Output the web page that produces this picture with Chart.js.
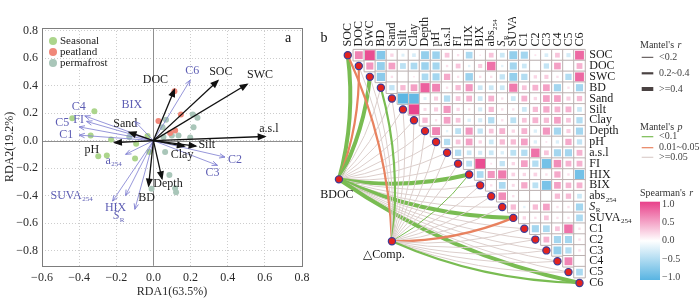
<!DOCTYPE html>
<html>
<head>
<meta charset="utf-8">
<script src="https://cdn.jsdelivr.net/npm/chart.js@4.4.0/dist/chart.umd.min.js"></script>
<style>
html, body { margin: 0; padding: 0; background: #fff; overflow: hidden; }
#wrap { position: relative; width: 700px; height: 299px; }
canvas { position: absolute; top: 0; }
#rda { left: 0; }
#mantel { left: 310px; }
</style>
</head>
<body>
<div id="wrap">
  <canvas id="rda" width="318" height="299"></canvas>
  <canvas id="mantel" width="390" height="299"></canvas>
</div>
<script>
const FONT = '"Liberation Serif", "DejaVu Serif", serif';

// ---- panel a: RDA sample scores ----
const seasonalX = [-0.318, -0.437, -0.338, -0.228, -0.297, -0.251, -0.099, -0.093, -0.032, -0.022];
const seasonalY = [0.214, 0.163, 0.038, 0.009, -0.113, -0.108, -0.130, -0.022, 0.033, -0.082];
const peatlandX = [0.113, 0.027, 0.148, 0.117, 0.090];
const peatlandY = [0.359, 0.142, 0.190, 0.074, 0.055];
const permafrostX = [0.068, 0.049, 0.212, 0.237, 0.216, 0.198, 0.135, 0.099, 0.054, 0.063, 0.086, -0.010, 0.117, 0.122, -0.130];
const permafrostY = [0.152, 0.098, 0.190, 0.166, 0.098, 0.022, 0.038, 0.038, 0.026, -0.082, -0.251, -0.350, -0.347, -0.376, 0.026];

// environmental arrows (black)
const envNames = ['DOC', 'SOC', 'SWC', 'a.s.l', 'Silt', 'Clay', 'Depth', 'BD', 'pH', 'Sand'];
const envX = [0.113, 0.347, 0.504, 0.600, 0.228, 0.165, 0.046, -0.026, -0.208, -0.130];
const envY = [0.371, 0.436, 0.410, 0.030, -0.040, -0.040, -0.276, -0.328, -0.015, 0.060];

// DOM index arrows (blue)
const domNames = ['C6', 'BIX', 'C4', 'FI', 'C5', 'C1', 'C2', 'C3', 'a254', 'SUVA254', 'HIX', 'SR'];
const domX = [0.198, -0.100, -0.370, -0.360, -0.400, -0.400, 0.385, 0.345, -0.150, -0.220, -0.150, -0.100];
const domY = [0.440, 0.140, 0.180, 0.140, 0.100, 0.040, -0.120, -0.180, -0.100, -0.440, -0.400, -0.500];

const xTicks = [-0.6, -0.4, -0.2, 0, 0.2, 0.4, 0.6, 0.8];
const yTicks = [-0.8, -0.6, -0.4, -0.2, 0, 0.2, 0.4, 0.6, 0.8];

// label offsets from the arrow tip, in pixels
const labelOffset = {
  'DOC': [-19, -10], 'SOC': [3, -9], 'SWC': [13, -9], 'a.s.l': [4, -8], 'Silt': [11, -1],
  'Clay': [-2, 9], 'Depth': [6, 5], 'BD': [-2, 12], 'pH': [-23, 7], 'Sand': [-4, -9],
  'C6': [2, -9], 'BIX': [-3, -17], 'C4': [-6, -9], 'FI': [-8, -2], 'C5': [-17, -4], 'C1': [-13, 0],
  'C2': [10, 3], 'C3': [-5, 8], 'a254': [-12, 6], 'SUVA254': [-41, -5], 'HIX': [-10, 12], 'SR': [-16, 7]
};

// ---- panel b: Spearman matrix (upper triangle) and Mantel links ----
const varNames = ['SOC', 'DOC', 'SWC', 'BD', 'Sand', 'Silt', 'Clay', 'Depth', 'pH', 'a.s.l', 'FI',
  'HIX', 'BIX', 'abs254', 'SR', 'SUVA254', 'C1', 'C2', 'C3', 'C4', 'C5', 'C6'];
const corrRows = [
  [0.55, 0.85, -0.65, 0.1, -0.08, -0.12, -0.55, -0.5, 0.2, 0.05, -0.4, 0.02, 0.2, -0.2, -0.55, -0.45, 0.03, -0.12, 0.2, -0.15, 0.7],
  [0.45, -0.55, 0.4, -0.3, -0.4, -0.5, -0.45, 0.05, 0.2, -0.05, 0.15, 0.65, -0.05, -0.45, -0.2, 0, -0.25, 0.4, 0, 0.3],
  [-0.6, 0.05, 0, 0.02, -0.4, -0.45, 0.35, 0.05, -0.5, 0.05, 0.05, -0.25, -0.55, -0.35, 0.1, 0.15, 0.05, -0.35, 0.7],
  [-0.25, 0.25, 0.4, 0.75, 0.55, 0.05, 0.25, 0.45, -0.2, -0.2, -0.2, 0.6, 0.2, 0.3, 0.4, -0.45, 0.05, -0.45],
  [-0.9, -0.85, -0.08, 0.15, -0.35, 0.2, 0.3, -0.2, 0.3, 0.05, -0.2, 0.3, 0.1, 0.4, 0.4, 0.15, 0.25],
  [0.9, 0.08, 0.15, 0.45, 0.1, 0.05, -0.15, 0.25, 0.05, 0.05, -0.2, 0.25, 0.35, 0.3, 0.3, -0.2],
  [0.25, 0.05, 0.4, 0.2, -0.1, -0.15, -0.35, 0.05, -0.3, 0.2, 0.3, 0.25, 0.4, 0.2, -0.35],
  [0.55, -0.05, -0.3, 0.45, -0.25, 0.2, 0.3, 0.1, 0.3, -0.1, 0.45, -0.45, 0.15, -0.45],
  [-0.35, 0.2, 0.4, 0.1, -0.2, 0.25, 0.25, 0.4, -0.1, 0.03, -0.1, 0.35, -0.25],
  [-0.35, -0.2, -0.15, -0.2, -0.1, -0.3, -0.35, 0.65, 0.2, -0.45, -0.45, 0.3],
  [-0.3, 0.85, 0.03, -0.25, 0.1, 0.4, -0.35, -0.75, 0.5, 0.3, 0.3],
  [-0.4, 0.45, 0.6, 0.12, 0.1, 0.12, 0.05, 0.35, 0.05, -0.75],
  [0.05, -0.4, 0.08, 0.35, -0.3, -0.72, 0.4, 0.28, 0.3],
  [0.5, 0.05, 0, 0, 0, 0.25, 0.25, -0.2],
  [0.25, -0.05, 0.25, 0.4, 0.05, 0.05, -0.45],
  [0.1, 0.05, 0.2, 0.05, 0.05, -0.4],
  [-0.45, -0.4, 0.2, 0.65, 0.05],
  [0.3, -0.45, -0.45, 0.05],
  [-0.55, -0.35, 0.05],
  [0.55, 0],
  [-0.4]
];

// Mantel test of BDOC and DOM composition against every variable
const bdocR = [0.45, 0.3, 0.45, 0.1, 0.08, 0.1, 0.1, 0.12, 0.1, 0.12, 0.1, 0.45, 0.1, 0.1, 0.1, 0.45, 0.1, 0.1, 0.1, 0.1, 0.1, 0.45];
const bdocP = [0.001, 0.03, 0.001, 0.3, 0.5, 0.4, 0.4, 0.3, 0.4, 0.3, 0.4, 0.001, 0.3, 0.4, 0.5, 0.001, 0.4, 0.5, 0.5, 0.5, 0.5, 0.001];
const compR = [0.25, 0.1, 0.1, 0.25, 0.1, 0.1, 0.1, 0.1, 0.1, 0.1, 0.1, 0.15, 0.1, 0.1, 0.1, 0.25, 0.1, 0.1, 0.1, 0.1, 0.1, 0.3];
const compP = [0.03, 0.4, 0.3, 0.005, 0.5, 0.5, 0.4, 0.4, 0.5, 0.4, 0.3, 0.008, 0.3, 0.4, 0.5, 0.02, 0.3, 0.4, 0.4, 0.5, 0.5, 0.004];

// node positions in matrix index units (layout)
const bdocNode = { x: -0.8, y: 11.45 };
const compNode = { x: 4.0, y: 17.16 };

// ---- helpers ----
const SUBS = { a254: ['a', '254'], abs254: ['abs', '254'], SUVA254: ['SUVA', '254'], SR: ['S', 'R'] };

function drawLabel(ctx, name, x, y, size, color, align) {
  const s = SUBS[name];
  const main = s ? s[0] : name, sub = s ? s[1] : '';
  const mainFont = (name === 'SR' ? 'italic ' : '') + size + 'px ' + FONT;
  const subFont = Math.round(size * 0.6) + 'px ' + FONT;
  ctx.font = mainFont;
  const wm = ctx.measureText(main).width;
  ctx.font = subFont;
  const ws = sub ? ctx.measureText(sub).width + 0.5 : 0;
  const w = wm + ws;
  const x0 = align === 'center' ? x - w / 2 : (align === 'right' ? x - w : x);
  ctx.fillStyle = color;
  ctx.textAlign = 'left';
  ctx.textBaseline = 'middle';
  ctx.font = mainFont;
  ctx.fillText(main, x0, y);
  if (sub) {
    ctx.font = subFont;
    ctx.fillText(sub, x0 + wm + 0.5, y + size * 0.3);
  }
}

function fmt(v) {
  const s = Math.abs(v).toFixed(1);
  return v < -1e-9 ? '\u2212' + s : s;
}

const POS = [232, 64, 138], NEG = [88, 180, 226];
function corrColor(r) {
  const c = r >= 0 ? POS : NEG;
  const t = Math.min(1, 0.12 + 0.95 * Math.abs(r));
  return 'rgb(' + c.map(v => Math.round(255 + (v - 255) * t)).join(',') + ')';
}

function mantelWidth(r) { return r < 0.2 ? 1 : (r < 0.4 ? 2.2 : 4); }
function mantelColor(p) { return p < 0.01 ? '#79bc52' : (p < 0.05 ? '#e8825f' : '#dccfcc'); }

// ---- panel a chart ----
const arrowSets = [];
envNames.forEach((n, i) => arrowSets.push({
  type: 'line', label: n, kind: 'env', data: [{ x: 0, y: 0 }, { x: envX[i], y: envY[i] }],
  borderColor: '#111', borderWidth: 1.3, pointRadius: 0, order: 1
}));
domNames.forEach((n, i) => arrowSets.push({
  type: 'line', label: n, kind: 'dom', data: [{ x: 0, y: 0 }, { x: domX[i], y: domY[i] }],
  borderColor: '#7c7cd0', borderWidth: 0.8, pointRadius: 0, order: 1
}));

const pts = (xs, ys) => xs.map((x, i) => ({ x: x, y: ys[i] }));
const groups = [
  { label: 'Seasonal', data: pts(seasonalX, seasonalY), color: '#acd58c' },
  { label: 'peatland', data: pts(peatlandX, peatlandY), color: '#f0887a' },
  { label: 'permafrost', data: pts(permafrostX, permafrostY), color: '#a9c6b9' }
];

const rdaDecor = {
  id: 'rdaDecor',
  beforeDatasetsDraw(chart) {
    const { ctx, chartArea: a, scales: { x, y } } = chart;
    ctx.save();
    ctx.strokeStyle = '#8f8f8f';
    ctx.lineWidth = 1;
    const x0 = Math.round(x.getPixelForValue(0)) + 0.5;
    const y0 = Math.round(y.getPixelForValue(0)) + 0.5;
    ctx.beginPath();
    ctx.moveTo(x0, a.top); ctx.lineTo(x0, a.bottom);
    ctx.moveTo(a.left, y0); ctx.lineTo(a.right, y0);
    ctx.stroke();
    ctx.restore();
  },
  afterDatasetsDraw(chart) {
    const { ctx, chartArea: a } = chart;
    ctx.save();
    // arrow heads and labels
    chart.data.datasets.forEach((ds, i) => {
      if (!ds.kind) return;
      const meta = chart.getDatasetMeta(i);
      const p0 = meta.data[0], p1 = meta.data[1];
      const ang = Math.atan2(p1.y - p0.y, p1.x - p0.x);
      const len = ds.kind === 'env' ? 7 : 6, spread = 0.38;
      ctx.strokeStyle = ds.borderColor;
      ctx.fillStyle = ds.borderColor;
      ctx.lineWidth = ds.kind === 'env' ? 1.3 : 0.9;
      ctx.beginPath();
      ctx.moveTo(p1.x - len * Math.cos(ang - spread), p1.y - len * Math.sin(ang - spread));
      ctx.lineTo(p1.x, p1.y);
      ctx.lineTo(p1.x - len * Math.cos(ang + spread), p1.y - len * Math.sin(ang + spread));
      if (ds.kind === 'env') { ctx.closePath(); ctx.fill(); }
      ctx.stroke();
      const off = labelOffset[ds.label] || [0, -8];
      drawLabel(ctx, ds.label, p1.x + off[0], p1.y + off[1], 12, ds.kind === 'env' ? '#1a1a1a' : '#5e5eb4', 'center');
    });
    // frame
    ctx.strokeStyle = '#7d7d7d';
    ctx.lineWidth = 1;
    ctx.strokeRect(Math.round(a.left) + 0.5, Math.round(a.top) + 0.5, Math.round(a.right - a.left), Math.round(a.bottom - a.top));
    // legend
    groups.forEach((g, k) => {
      const ly = a.top + 13 + k * 11;
      ctx.fillStyle = g.color;
      ctx.beginPath();
      ctx.arc(a.left + 11, ly, 4, 0, Math.PI * 2);
      ctx.fill();
      ctx.fillStyle = '#222';
      ctx.font = '11px ' + FONT;
      ctx.textAlign = 'left';
      ctx.textBaseline = 'middle';
      ctx.fillText(g.label, a.left + 18, ly);
    });
    ctx.font = '14px ' + FONT;
    ctx.fillStyle = '#111';
    ctx.textAlign = 'center';
    ctx.fillText('a', a.right - 14, a.top + 10);
    ctx.restore();
  }
};

new Chart(document.getElementById('rda'), {
  type: 'scatter',
  data: {
    datasets: groups.map(g => ({
      label: g.label, data: g.data, backgroundColor: g.color, borderWidth: 0, pointRadius: 3, order: 2
    })).concat(arrowSets)
  },
  options: {
    responsive: false,
    animation: false,
    devicePixelRatio: 1,
    events: [],
    layout: { padding: { left: 0, top: 28, right: 16, bottom: 0 } },
    plugins: { legend: { display: false }, tooltip: { enabled: false } },
    scales: {
      x: {
        type: 'linear', min: -0.6, max: 0.8,
        afterBuildTicks: s => { s.ticks = xTicks.map(v => ({ value: v })); },
        afterFit: s => { s.height = 33.4; },
        grid: { color: '#cdcdcd', lineWidth: 1, drawTicks: false },
        border: { display: false, dash: [1, 2] },
        ticks: { callback: v => fmt(v), font: { family: FONT, size: 12 }, color: '#2a2a2a', padding: 5, maxRotation: 0, autoSkip: false },
        title: { display: true, text: 'RDA1(63.5%)', font: { family: FONT, size: 12 }, color: '#2a2a2a', padding: { top: 0, bottom: 0 } }
      },
      y: {
        type: 'linear', min: -0.91, max: 0.82,
        afterBuildTicks: s => { s.ticks = yTicks.map(v => ({ value: v })); },
        afterFit: s => { s.width = 42; },
        grid: { color: '#cdcdcd', lineWidth: 1, drawTicks: false },
        border: { display: false, dash: [1, 2] },
        ticks: { callback: v => fmt(v), font: { family: FONT, size: 12 }, color: '#2a2a2a', padding: 4, autoSkip: false },
        title: { display: true, text: 'RDA2(19.2%)', font: { family: FONT, size: 12 }, color: '#2a2a2a', padding: { top: 3, bottom: 0 } }
      }
    }
  },
  plugins: [rdaDecor]
});

// ---- panel b chart ----
const cells = [];
corrRows.forEach((row, i) => row.forEach((r, k) => cells.push({ x: i + 1 + k, y: i, r: r })));
const diag = varNames.map((n, i) => ({ x: i, y: i }));
const CELL = 11.57;

const mantelDecor = {
  id: 'mantelDecor',
  beforeDatasetsDraw(chart) {
    const { ctx, scales: { x, y } } = chart;
    const links = [];
    [[bdocNode, bdocR, bdocP], [compNode, compR, compP]].forEach(([node, rs, ps]) => {
      varNames.forEach((n, j) => links.push({ from: node, to: j, r: rs[j], p: ps[j] }));
    });
    ctx.save();
    ctx.lineCap = 'round';
    links.forEach(l => {
      const x0 = x.getPixelForValue(l.from.x), y0 = y.getPixelForValue(l.from.y);
      const x1 = x.getPixelForValue(l.to), y1 = y.getPixelForValue(l.to);
      const dx = x1 - x0, dy = y1 - y0, k = 0.1;
      ctx.strokeStyle = mantelColor(l.p);
      ctx.lineWidth = mantelWidth(l.r);
      ctx.beginPath();
      ctx.moveTo(x0, y0);
      ctx.quadraticCurveTo((x0 + x1) / 2 - dy * k, (y0 + y1) / 2 + dx * k, x1, y1);
      ctx.stroke();
    });
    ctx.restore();
  },
  afterDraw(chart) {
    const { ctx, scales: { x, y } } = chart;
    ctx.save();
    // column labels (clipped like the source figure)
    ctx.save();
    ctx.beginPath();
    ctx.rect(0, 17, chart.width, chart.height);
    ctx.clip();
    varNames.forEach((n, j) => {
      ctx.save();
      ctx.translate(x.getPixelForValue(j), y.getPixelForValue(0) - CELL / 2 - 3);
      ctx.rotate(-Math.PI / 2);
      drawLabel(ctx, n, 0, 0, 12, '#1a1a1a', 'left');
      ctx.restore();
    });
    ctx.restore();
    // row labels
    const rx = x.getPixelForValue(varNames.length - 1) + CELL / 2 + 4;
    varNames.forEach((n, i) => drawLabel(ctx, n, rx, y.getPixelForValue(i), 12, '#1a1a1a', 'left'));
    // panel letter and node names
    ctx.font = '14px ' + FONT;
    ctx.fillStyle = '#111';
    ctx.textAlign = 'center';
    ctx.textBaseline = 'middle';
    ctx.fillText('b', 14, 38);
    ctx.font = '12px ' + FONT;
    ctx.fillText('BDOC', x.getPixelForValue(bdocNode.x) - 2, y.getPixelForValue(bdocNode.y) + 15);
    ctx.fillText('\u25B3Comp.', x.getPixelForValue(compNode.x) - 8, y.getPixelForValue(compNode.y) + 14);

    // legends
    const lx = 330;
    const title = (t, it, yy) => {
      ctx.font = '10px ' + FONT;
      ctx.fillStyle = '#333';
      ctx.textAlign = 'left';
      ctx.fillText(t, lx, yy);
      const w = ctx.measureText(t).width;
      ctx.font = 'italic 10px ' + FONT;
      ctx.fillText(it, lx + w + 1, yy);
    };
    const item = (yy, color, width, text) => {
      ctx.strokeStyle = color;
      ctx.lineWidth = width;
      ctx.beginPath();
      ctx.moveTo(lx + 1.7, yy); ctx.lineTo(lx + 13.3, yy);
      ctx.stroke();
      ctx.font = '10px ' + FONT;
      ctx.fillStyle = '#444';
      ctx.textAlign = 'left';
      ctx.fillText(text, lx + 19, yy);
    };
    title("Mantel's ", 'r', 45);
    item(57.3, '#4a4242', 1, '<0.2');
    item(73.3, '#4a4242', 2.2, '0.2~0.4');
    item(89, '#4a4242', 4, '>=0.4');
    title("Mantel's ", 'p', 127.3);
    item(136.7, mantelColor(0.001), 1.2, '<0.1');
    item(147.7, mantelColor(0.03), 1.2, '0.01~0.05');
    item(157.3, mantelColor(0.5), 1.2, '>=0.05');
    title("Spearman's ", 'r', 193.3);
    const top = 201.7, bot = 280;
    const g = ctx.createLinearGradient(0, top, 0, bot);
    g.addColorStop(0, corrColor(1));
    g.addColorStop(0.5, '#ffffff');
    g.addColorStop(1, corrColor(-1));
    ctx.fillStyle = g;
    ctx.fillRect(lx, top, 20, bot - top);
    ctx.font = '10px ' + FONT;
    ctx.fillStyle = '#444';
    [1, 0.5, 0, -0.5, -1].forEach(v => {
      const yy = top + 2.3 + (1 - v) / 2 * (bot - top - 4.6);
      ctx.fillText(fmt(v), lx + 22, yy);
    });
    ctx.restore();
  }
};

new Chart(document.getElementById('mantel'), {
  type: 'scatter',
  data: {
    datasets: [
      { label: 'grid', data: cells.map(c => ({ x: c.x, y: c.y })), pointStyle: 'rect', pointRadius: CELL * Math.SQRT1_2,
        backgroundColor: '#ffffff', borderColor: '#bcb1b1', borderWidth: 1, order: 4, clip: false },
      { label: 'spearman', data: cells, pointStyle: 'rect', borderWidth: 0, order: 3, clip: false,
        pointRadius: c => (c.raw ? 10.6 * Math.sqrt(Math.abs(c.raw.r)) * Math.SQRT1_2 : 0),
        backgroundColor: c => (c.raw ? corrColor(c.raw.r) : '#fff') },
      { label: 'vars', data: diag, pointRadius: 3.6, backgroundColor: '#e3231f', borderColor: '#3d3d98', borderWidth: 1.2, order: 1, clip: false },
      { label: 'nodes', data: [bdocNode, compNode], pointRadius: 3.6, backgroundColor: '#e3231f', borderColor: '#3d3d98', borderWidth: 1.2, order: 1, clip: false }
    ]
  },
  options: {
    responsive: false,
    animation: false,
    devicePixelRatio: 1,
    events: [],
    layout: { padding: 0 },
    plugins: { legend: { display: false }, tooltip: { enabled: false } },
    scales: {
      x: { type: 'linear', display: false, min: -30 / 11.58, max: 360 / 11.58 },
      y: { type: 'linear', display: false, reverse: true, min: -49 / 11.557, max: 250 / 11.557 }
    }
  },
  plugins: [mantelDecor]
});
</script>
</body>
</html>
